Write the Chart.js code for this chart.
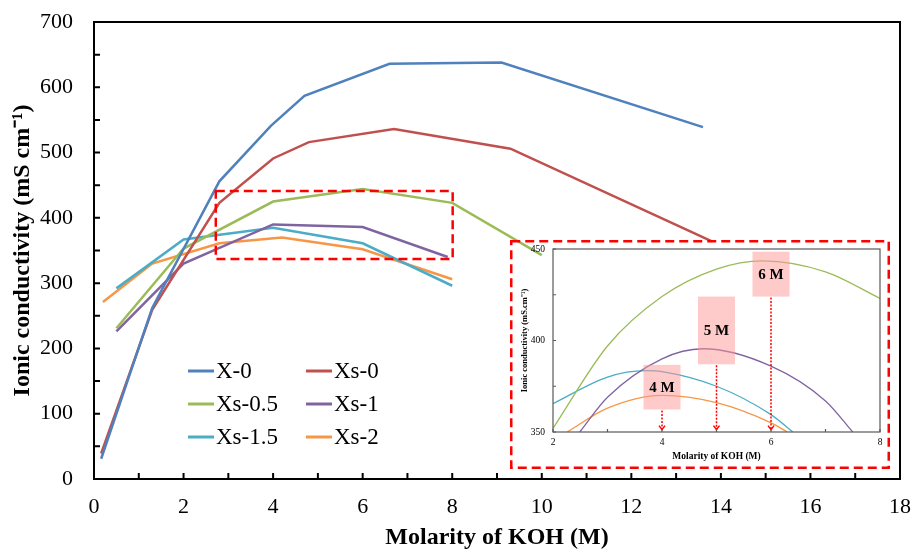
<!DOCTYPE html>
<html>
<head>
<meta charset="utf-8">
<script src="https://cdn.jsdelivr.net/npm/chart.js@4.4.1/dist/chart.umd.min.js"></script>
<style>
  html, body { margin: 0; padding: 0; background: #fff; }
  #wrap { position: relative; width: 913px; height: 549px; }
  #main { position: absolute; left: 0; top: 0; }
  #inset { position: absolute; left: 510px; top: 240px; }
</style>
</head>
<body>
<div id="wrap">
  <canvas id="main" width="913" height="549"></canvas>
  <canvas id="inset" width="380" height="229"></canvas>
</div>
<script>
// datos
const seriesNames = ['X-0', 'Xs-0', 'Xs-0.5', 'Xs-1', 'Xs-1.5', 'Xs-2'];
const seriesColors = ['#4F81BD', '#C0504D', '#9BBB59', '#8064A2', '#4BACC6', '#F79646'];

const molX0 = [0.16, 1.3, 2.8, 3.95, 4.7, 6.6, 9.1, 13.6];
const condX0 = [31, 262, 456, 541, 587, 636, 638, 539];
const molXs0 = [0.16, 1.3, 2.8, 4.0, 4.8, 6.7, 9.3, 13.8];
const condXs0 = [39, 259, 423, 491, 516, 536, 506, 364];
const molXs05 = [0.5, 2, 4, 6, 8, 10];
const condXs05 = [231, 353, 425, 444, 423, 343];
const molXs1 = [0.5, 2, 4, 6, 7.9];
const condXs1 = [226, 330, 390, 386, 340];
const molXs15 = [0.5, 2, 4, 6, 8];
const condXs15 = [292, 367, 385, 361, 296];
const molXs2 = [0.2, 1.3, 2.8, 4.2, 6, 8];
const condXs2 = [271, 330, 361, 370, 352, 306];

const xTickLabels = [0, 2, 4, 6, 8, 10, 12, 14, 16, 18];
const yTickLabels = [0, 100, 200, 300, 400, 500, 600, 700];

// zona ampliada (recuadro rojo)
const zoomBox = { x0: 2.72, x1: 8.01, y0: 337, y1: 441 };

// inset: curvas ajustadas (solo Xs-0.5, Xs-1, Xs-1.5, Xs-2)
const insetMolXs05 = [2, 3, 4, 5, 5.85, 7, 8];
const insetCondXs05 = [352, 397, 424, 439, 443.5, 437.5, 423];
const insetMolXs1 = [2.49, 3, 4, 4.75, 6, 7, 7.5];
const insetCondXs1 = [350, 369, 390, 395.5, 386, 367, 350];
const insetMolXs15 = [2, 3, 3.7, 4, 5, 6, 6.4];
const insetCondXs15 = [365.5, 380, 383.5, 383, 375, 359.5, 350];
const insetMolXs2 = [2.26, 3, 4, 5, 6, 6.3];
const insetCondXs2 = [350, 363, 370, 366, 355, 350];
const insetXTickLabels = [2, 4, 6, 8];
const insetYTickLabels = [350, 400, 450];

const peakLabels = ['4 M', '5 M', '6 M'];
const peakMol = [4, 5, 6];
const peakBoxLow = [362.3, 387, 424];
const peakBoxHigh = [386.7, 424, 448.5];

const serif = "'Liberation Serif', 'Times New Roman', serif";

function pts(xs, ys) { return xs.map((x, i) => ({ x: x, y: ys[i] })); }

// quita el margen extra que Chart.js deja para las etiquetas
function noPad(s) {
  s.paddingTop = 0; s.paddingBottom = 0; s.paddingLeft = 0; s.paddingRight = 0;
}

const mainData = [
  pts(molX0, condX0), pts(molXs0, condXs0), pts(molXs05, condXs05),
  pts(molXs1, condXs1), pts(molXs15, condXs15), pts(molXs2, condXs2)
];

const mainDecor = {
  id: 'mainDecor',
  afterDraw(chart) {
    const { ctx, chartArea: a, scales } = chart;
    const xs = scales.x, ys = scales.y;
    ctx.save();
    // marco
    ctx.strokeStyle = '#000';
    ctx.lineWidth = 2;
    ctx.strokeRect(a.left, a.top, a.right - a.left, a.bottom - a.top);
    // ticks hacia dentro
    ctx.beginPath();
    for (let v = 0; v <= 18; v++) {
      const px = xs.getPixelForValue(v);
      ctx.moveTo(px, a.bottom); ctx.lineTo(px, a.bottom - 6);
    }
    for (let v = 0; v <= 700; v += 50) {
      const py = ys.getPixelForValue(v);
      ctx.moveTo(a.left, py); ctx.lineTo(a.left + 6, py);
    }
    ctx.stroke();
    // recuadro rojo
    ctx.strokeStyle = '#FF0000';
    ctx.lineWidth = 2.5;
    ctx.setLineDash([9, 5]);
    const rx0 = xs.getPixelForValue(zoomBox.x0), rx1 = xs.getPixelForValue(zoomBox.x1);
    const ry0 = ys.getPixelForValue(zoomBox.y1), ry1 = ys.getPixelForValue(zoomBox.y0);
    ctx.strokeRect(rx0, ry0, rx1 - rx0, ry1 - ry0);
    ctx.setLineDash([]);
    // leyenda
    ctx.font = '23px ' + serif;
    ctx.textBaseline = 'middle';
    ctx.fillStyle = '#000';
    ctx.lineWidth = 3;
    seriesNames.forEach((name, i) => {
      const col = i % 2, row = Math.floor(i / 2);
      const lx = col === 0 ? 188 : 306;
      const ly = 371 + row * 33;
      ctx.strokeStyle = seriesColors[i];
      ctx.beginPath(); ctx.moveTo(lx, ly); ctx.lineTo(lx + 26, ly); ctx.stroke();
      ctx.fillText(name, lx + 28, ly + 1);
    });
    // titulos de ejes
    ctx.font = 'bold 24px ' + serif;
    ctx.textAlign = 'center';
    ctx.fillText('Molarity of KOH (M)', (a.left + a.right) / 2, 538);
    ctx.translate(23, (a.top + a.bottom) / 2);
    ctx.rotate(-Math.PI / 2);
    ctx.fillText('Ionic conductivity (mS cm\u207B\u00B9)', 0, 0);
    ctx.restore();
  }
};

new Chart(document.getElementById('main'), {
  type: 'scatter',
  data: {
    datasets: seriesNames.map((name, i) => ({
      label: name,
      data: mainData[i],
      showLine: true,
      borderColor: seriesColors[i],
      backgroundColor: seriesColors[i],
      borderWidth: 2.5,
      pointRadius: 0,
      tension: 0
    }))
  },
  options: {
    responsive: false,
    animation: false,
    layout: { padding: { top: 22, right: 13, left: 0, bottom: 0 } },
    plugins: { legend: { display: false }, tooltip: { enabled: false } },
    scales: {
      x: {
        type: 'linear', min: 0, max: 18,
        grid: { display: false, drawTicks: false },
        border: { display: false },
        ticks: {
          stepSize: 1, autoSkip: false, maxRotation: 0, padding: 15,
          color: '#000', font: { family: serif, size: 22 },
          callback: v => xTickLabels.includes(v) ? String(v) : ''
        },
        afterFit: s => { s.height = 70; noPad(s); }
      },
      y: {
        min: 0, max: 700,
        grid: { display: false, drawTicks: false },
        border: { display: false },
        ticks: {
          stepSize: 50, autoSkip: false, padding: 21,
          color: '#000', font: { family: serif, size: 22 },
          callback: v => yTickLabels.includes(v) ? String(v) : ''
        },
        afterFit: s => { s.width = 94; noPad(s); }
      }
    }
  },
  plugins: [mainDecor]
});

// ---- inset ----
const insetData = [
  pts(insetMolXs05, insetCondXs05), pts(insetMolXs1, insetCondXs1),
  pts(insetMolXs15, insetCondXs15), pts(insetMolXs2, insetCondXs2)
];
const insetColors = seriesColors.slice(2);

const insetDecor = {
  id: 'insetDecor',
  afterDatasetsDraw(chart) {
    const { ctx, scales } = chart;
    const xs = scales.x, ys = scales.y;
    ctx.save();
    peakLabels.forEach((lab, i) => {
      const cx = xs.getPixelForValue(peakMol[i]);
      const top = ys.getPixelForValue(peakBoxHigh[i]);
      const bot = ys.getPixelForValue(peakBoxLow[i]);
      const halfW = 18.5;
      ctx.fillStyle = 'rgba(255,150,150,0.5)';
      ctx.fillRect(cx - halfW, top, halfW * 2, bot - top);
      ctx.fillStyle = '#000';
      ctx.font = 'bold 15px ' + serif;
      ctx.textAlign = 'center';
      ctx.textBaseline = 'middle';
      ctx.fillText(lab, cx, (top + bot) / 2 + 1);
      // flecha punteada
      const tip = ys.getPixelForValue(351.3);
      ctx.strokeStyle = '#FF0000';
      ctx.lineWidth = 1.5;
      ctx.setLineDash([2, 1.5]);
      ctx.beginPath(); ctx.moveTo(cx, bot + 1); ctx.lineTo(cx, tip); ctx.stroke();
      ctx.setLineDash([]);
      ctx.beginPath();
      ctx.moveTo(cx - 3, tip - 4); ctx.lineTo(cx, tip); ctx.lineTo(cx + 3, tip - 4);
      ctx.stroke();
    });
    ctx.restore();
  },
  afterDraw(chart) {
    const { ctx, chartArea: a, scales } = chart;
    const xs = scales.x, ys = scales.y;
    ctx.save();
    ctx.strokeStyle = '#595959';
    ctx.lineWidth = 1.2;
    ctx.strokeRect(a.left, a.top, a.right - a.left, a.bottom - a.top);
    ctx.beginPath();
    for (let v = 2; v <= 8; v++) {
      const px = xs.getPixelForValue(v);
      ctx.moveTo(px, a.bottom); ctx.lineTo(px, a.bottom - 3);
    }
    for (let v = 350; v <= 450; v += 25) {
      const py = ys.getPixelForValue(v);
      ctx.moveTo(a.left, py); ctx.lineTo(a.left + 3, py);
    }
    ctx.stroke();
    // borde rojo discontinuo
    ctx.strokeStyle = '#FF0000';
    ctx.lineWidth = 2.5;
    ctx.setLineDash([9, 5]);
    ctx.strokeRect(1.25, 1.25, chart.width - 2.5, chart.height - 2.5);
    ctx.setLineDash([]);
    // titulos
    ctx.fillStyle = '#000';
    ctx.textAlign = 'center';
    ctx.textBaseline = 'middle';
    ctx.font = 'bold 9.5px ' + serif;
    ctx.fillText('Molarity of KOH (M)', (a.left + a.right) / 2, 217);
    ctx.font = 'bold 8.5px ' + serif;
    ctx.translate(15, (a.top + a.bottom) / 2);
    ctx.rotate(-Math.PI / 2);
    ctx.fillText('Ionic conductivity (mS.cm\u207B\u00B9)', 0, 0);
    ctx.restore();
  }
};

new Chart(document.getElementById('inset'), {
  type: 'scatter',
  data: {
    datasets: insetData.map((d, i) => ({
      label: seriesNames[i + 2],
      data: d,
      showLine: true,
      borderColor: insetColors[i],
      borderWidth: 1.3,
      pointRadius: 0,
      cubicInterpolationMode: 'monotone'
    }))
  },
  options: {
    responsive: false,
    animation: false,
    layout: { padding: { top: 9, right: 10, left: 0, bottom: 0 } },
    plugins: { legend: { display: false }, tooltip: { enabled: false } },
    scales: {
      x: {
        type: 'linear', min: 2, max: 8,
        grid: { display: false, drawTicks: false },
        border: { display: false },
        ticks: {
          stepSize: 1, autoSkip: false, maxRotation: 0, padding: 5,
          color: '#000', font: { family: serif, size: 9.5 },
          callback: v => insetXTickLabels.includes(v) ? String(v) : ''
        },
        afterFit: s => { s.height = 37; noPad(s); }
      },
      y: {
        min: 350, max: 450,
        grid: { display: false, drawTicks: false },
        border: { display: false },
        ticks: {
          stepSize: 25, autoSkip: false, padding: 8,
          color: '#000', font: { family: serif, size: 9.5 },
          callback: v => insetYTickLabels.includes(v) ? String(v) : ''
        },
        afterFit: s => { s.width = 43; noPad(s); }
      }
    }
  },
  plugins: [insetDecor]
});
</script>
</body>
</html>
